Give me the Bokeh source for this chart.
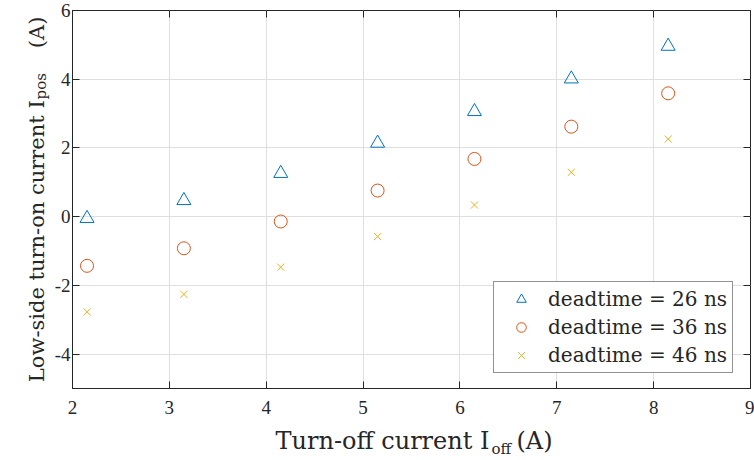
import math
from bokeh.plotting import figure
from bokeh.layouts import column, row
from bokeh.models import (Label, Legend, LegendItem, LinearAxis, FixedTicker,
                          Range1d, ColumnDataSource)
from bokeh.embed import file_html
from bokeh.resources import INLINE

# ---- data ----
i_off = [2.15, 3.15, 4.15, 5.15, 6.15, 7.15, 8.15]
ipos_26ns = [-0.05, 0.47, 1.26, 2.14, 3.06, 4.01, 4.96]
ipos_36ns = [-1.43, -0.92, -0.14, 0.76, 1.68, 2.62, 3.59]
ipos_46ns = [-2.77, -2.26, -1.47, -0.58, 0.34, 1.29, 2.26]
series_labels = ["deadtime = 26 ns", "deadtime = 36 ns", "deadtime = 46 ns"]
x_ticks = [2, 3, 4, 5, 6, 7, 8, 9]
y_ticks = [-4, -2, 0, 2, 4, 6]
y_tick_labels = ["-4", "-2", "0", "2", "4", "6"]
x_label_parts = ["Turn-off current I", "off", "(A)"]
y_label_parts = ["Low-side turn-on current I", "pos", "(A)"]

INK = "#262626"
TICK_FONT = "Liberation Serif"
LAB_FONT = "DejaVu Serif"

YW = 50          # width of the y-title strip
PH = 421         # height of the main plot
W, H = 754, 460

p = figure(width=W - YW, height=PH, x_range=Range1d(2, 9), y_range=Range1d(-5, 6),
           output_backend="svg", toolbar_location=None,
           min_border_left=72 - YW, min_border_right=4, min_border_top=10,
           min_border_bottom=PH - 388, background_fill_color="white",
           border_fill_color="white")

xa = p.below[0]
ya = p.left[0]
xa.ticker = FixedTicker(ticks=x_ticks)
ya.ticker = FixedTicker(ticks=y_ticks)
ya.major_label_overrides = {t: s for t, s in zip(y_ticks, y_tick_labels)}
for ax in (xa, ya):
    ax.major_tick_in = 7
    ax.major_tick_out = 0
    ax.minor_tick_line_color = None
    ax.axis_line_color = INK
    ax.major_tick_line_color = INK
    ax.major_label_text_font = TICK_FONT
    ax.major_label_text_font_size = "19px"
    ax.major_label_text_color = INK
xa.major_label_standoff = 12
ya.major_label_standoff = 2

for loc, ticks in (("right", y_ticks), ("above", x_ticks)):
    ax = LinearAxis(ticker=FixedTicker(ticks=ticks), major_tick_in=7, major_tick_out=0,
                    minor_tick_line_color=None, axis_line_color=None,
                    major_tick_line_color=INK, major_label_text_font_size="1px",
                    major_label_text_color=None, major_label_standoff=0)
    p.add_layout(ax, loc)

p.xgrid.ticker = FixedTicker(ticks=x_ticks)
p.ygrid.ticker = FixedTicker(ticks=y_ticks)
for g in (p.xgrid, p.ygrid):
    g.grid_line_color = "#dfdfdf"
    g.grid_line_width = 1

p.outline_line_color = INK
p.outline_line_width = 1
p.outline_line_alpha = 1

src = ColumnDataSource(dict(x=i_off, y26=ipos_26ns, y36=ipos_36ns, y46=ipos_46ns))
r1 = p.scatter("x", "y26", source=src, marker="triangle", size=14, fill_color=None,
               line_color="#0072BD", line_width=1)
r2 = p.scatter("x", "y36", source=src, marker="circle", size=13, fill_color=None,
               line_color="#D95319", line_width=1)
r3 = p.scatter("x", "y46", source=src, marker="x", size=10,
               line_color="#EDB120", line_width=1)

legend = Legend(items=[LegendItem(label=series_labels[0], renderers=[r1]),
                       LegendItem(label=series_labels[1], renderers=[r2]),
                       LegendItem(label=series_labels[2], renderers=[r3])],
                location=(421, 15), orientation="vertical",
                border_line_color=INK, border_line_width=1,
                background_fill_color="white", background_fill_alpha=1,
                label_text_font=LAB_FONT, label_text_font_size="20px",
                label_text_color=INK, padding=5, spacing=4, margin=0,
                glyph_width=44, glyph_height=24, label_height=24, label_standoff=5)
p.add_layout(legend)


def text_strip(w, h):
    f = figure(width=w, height=h, x_range=Range1d(0, w), y_range=Range1d(0, h),
               output_backend="svg", toolbar_location=None, min_border=0,
               x_axis_type=None, y_axis_type=None, outline_line_color=None,
               background_fill_color="white", border_fill_color="white")
    return f


common = dict(text_font=LAB_FONT, text_color=INK)

# y title strip (left); page x == strip x, page y == PH - strip y
yfig = text_strip(YW, PH)
yfig.add_layout(Label(x=36, y=PH - 100, text=y_label_parts[0], angle=math.pi / 2,
                      text_align="right", text_baseline="alphabetic",
                      text_font_size="21px", **common))
yfig.add_layout(Label(x=40, y=PH - 99, text=y_label_parts[1], angle=math.pi / 2,
                      text_align="left", text_baseline="alphabetic",
                      text_font_size="15px", **common))
yfig.add_layout(Label(x=36, y=PH - 42, text=y_label_parts[2], angle=math.pi / 2,
                      text_align="left", text_baseline="alphabetic",
                      text_font_size="21px", **common))

# x title strip (bottom); page y == H - strip y
XH = H - PH
xfig = text_strip(W, XH)
xfig.add_layout(Label(x=489, y=H - 440, text=x_label_parts[0], text_align="right",
                      text_baseline="middle", text_font_size="24px", **common))
xfig.add_layout(Label(x=491, y=H - 448.3, text=x_label_parts[1], text_align="left",
                      text_baseline="middle", text_font_size="15px", **common))
xfig.add_layout(Label(x=516, y=H - 440, text=x_label_parts[2], text_align="left",
                      text_baseline="middle", text_font_size="24px", **common))

layout = column(row(yfig, p), xfig)
open("out.html", "w").write(file_html(layout, INLINE))
